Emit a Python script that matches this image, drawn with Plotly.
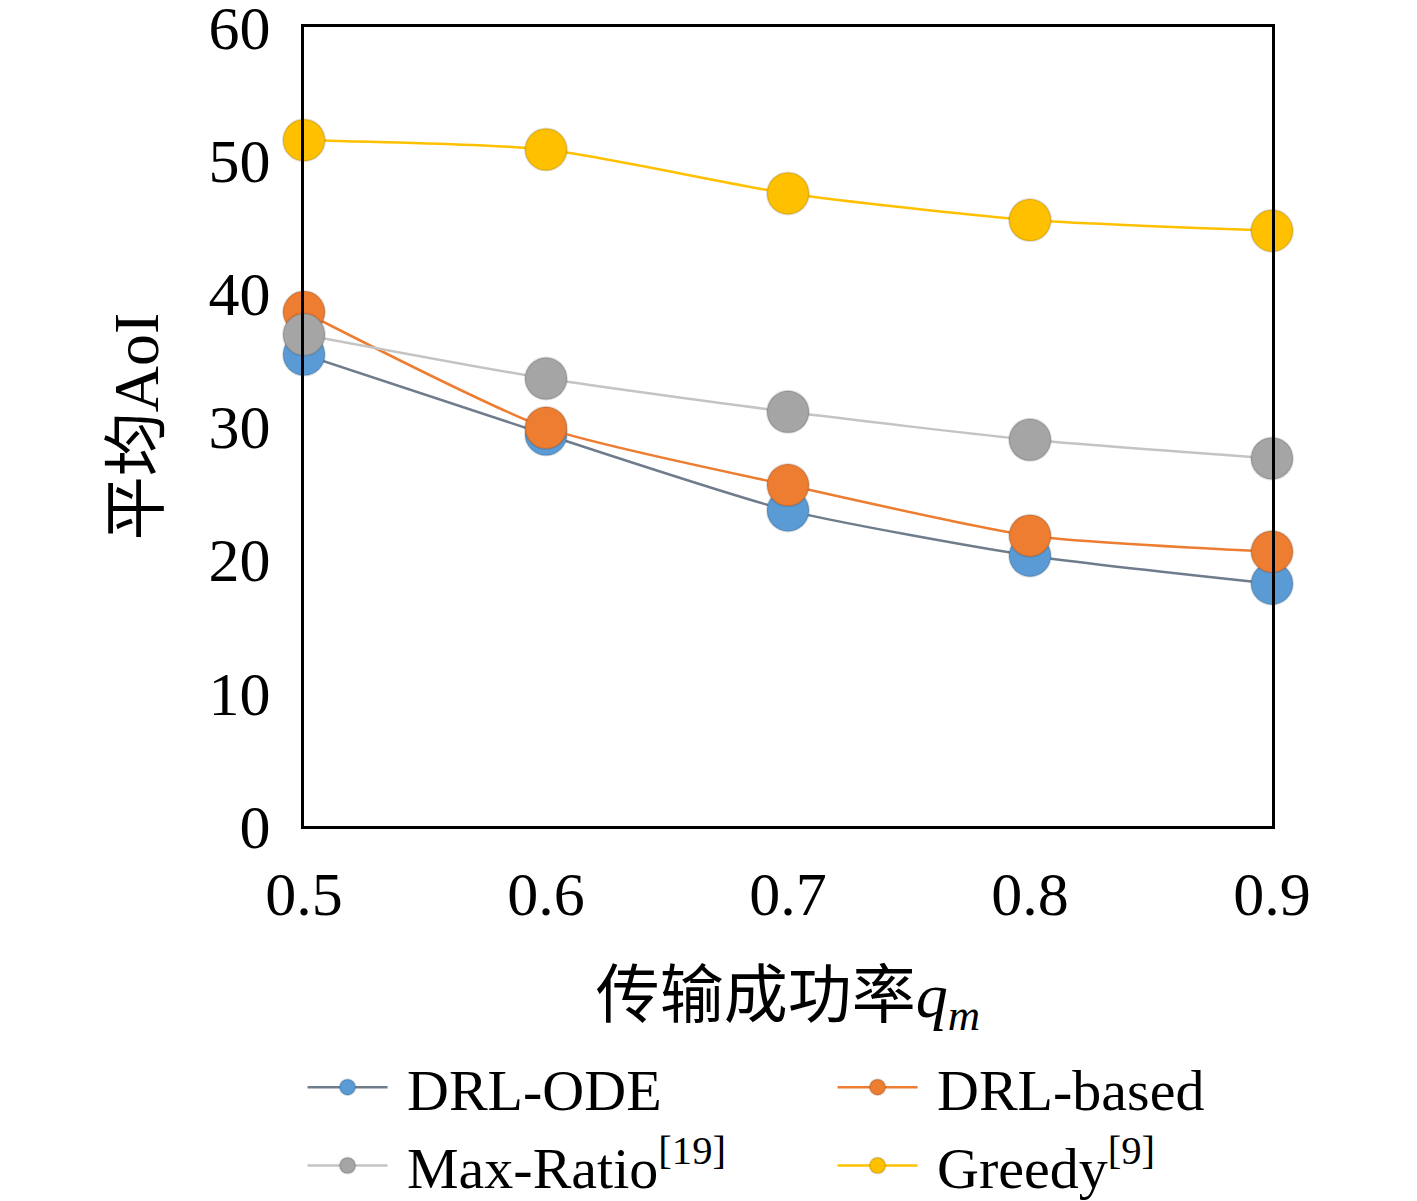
import plotly.graph_objects as go

# success probability q_m
q_m = [0.5, 0.6, 0.7, 0.8, 0.9]

# average AoI per method
drl_ode = [35.4, 29.4, 23.7, 20.3, 18.2]
drl_based = [38.6, 29.9, 25.6, 21.8, 20.6]
max_ratio = [36.9, 33.6, 31.1, 29.0, 27.6]
greedy = [51.5, 50.8, 47.5, 45.5, 44.7]

y_ticks = [0, 10, 20, 30, 40, 50, 60]

series = [
    ("DRL-ODE", drl_ode, "#5b9bd5", "#6f7c8c"),
    ("DRL-based", drl_based, "#ed7d31", "#ed7d31"),
    ("Max-Ratio<sup>[19]</sup>", max_ratio, "#a5a5a5", "#c4c4c4"),
    ("Greedy<sup>[9]</sup>", greedy, "#ffc000", "#ffc000"),
]

fig = go.Figure()
for name, vals, mcol, lcol in series:
    fig.add_trace(go.Scatter(
        x=q_m,
        y=vals,
        mode="lines+markers",
        name="\u00a0" + name,
        line=dict(color=lcol, width=2.5, shape="spline", smoothing=0.6),
        marker=dict(size=42, color=mcol, line=dict(color="rgba(0,0,0,0.12)", width=2)),
        cliponaxis=False,
    ))

serif = "Liberation Serif, Noto Sans CJK SC, serif"

# page body adds 8px offset; figure is a bit taller than the window so the
# legend fits without pushing the bottom margin (extra space is cropped)
fig.update_layout(
    width=1409,
    height=1260,
    margin=dict(l=296, r=145, t=19, b=442),
    plot_bgcolor="white",
    paper_bgcolor="white",
    font=dict(family=serif, size=62, color="black"),
    showlegend=True,
    legend=dict(
        orientation="h",
        x=-0.0015,
        y=-0.2715,
        xanchor="left",
        yanchor="top",
        entrywidth=435,
        entrywidthmode="pixels",
        itemwidth=80,
        font=dict(size=58),
        itemsizing="trace",
        tracegroupgap=0,
        bgcolor="rgba(0,0,0,0)",
    ),
)

fig.update_xaxes(
    range=[0.5, 0.9],
    tickvals=q_m,
    ticktext=["0.5", "0.6", "0.7", "0.8", "0.9"],
    showline=True,
    linecolor="black",
    linewidth=3,
    mirror=True,
    showgrid=False,
    zeroline=False,
    ticks="outside",
    ticklen=12,
    tickcolor="rgba(0,0,0,0)",
    ticklabeloverflow="allow",
    automargin=False,
    title=dict(text="传输成功率<i>q<sub>m</sub></i>", standoff=45, font=dict(size=64)),
)

fig.update_yaxes(
    range=[0, 60],
    tickvals=y_ticks,
    showline=True,
    linecolor="black",
    linewidth=3,
    mirror=True,
    showgrid=False,
    zeroline=False,
    ticks="outside",
    ticklen=18,
    tickcolor="rgba(0,0,0,0)",
    ticklabeloverflow="allow",
    automargin=False,
    title=dict(text="平均AoI", standoff=30, font=dict(size=64)),
)

fig.write_html("out.html")
